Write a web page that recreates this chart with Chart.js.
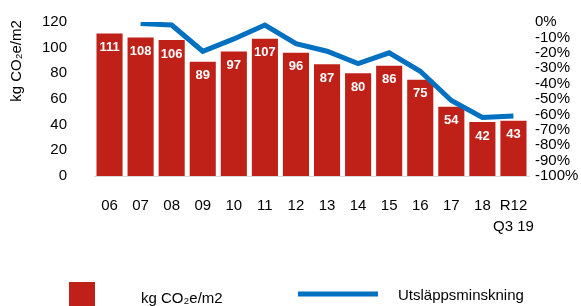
<!DOCTYPE html>
<html>
<head>
<meta charset="utf-8">
<script src="https://cdn.jsdelivr.net/npm/chart.js@4.4.1/dist/chart.umd.min.js"></script>
<style>
  html, body { margin: 0; padding: 0; background: #fff; }
  #wrap { width: 581px; height: 306px; }
</style>
</head>
<body>
<div id="wrap"><canvas id="chart" width="581" height="306"></canvas></div>
<script>
// Data
const categories = ['06', '07', '08', '09', '10', '11', '12', '13', '14', '15', '16', '17', '18', ['R12', 'Q3 19']];
const emissions = [111, 108, 106, 89, 97, 107, 96, 87, 80, 86, 75, 54, 42, 43];
const reduction = [null, -1, -2, -19, -11, -2, -14, -19, -27, -20, -32, -51, -62, -61];
const leftTicks = [0, 20, 40, 60, 80, 100, 120];
const rightTicks = [-100, -90, -80, -70, -60, -50, -40, -30, -20, -10, 0];
const yTitle = 'kg CO\u2082e/m2';

const FONT = "'Liberation Sans', Arial, sans-serif";
const RED = '#BF2119';
const BLUE = '#0070C0';

// White value labels inside the top of each bar
const barLabels = {
  id: 'barLabels',
  afterDatasetsDraw(chart) {
    const meta = chart.getDatasetMeta(0);
    const ctx = chart.ctx;
    ctx.save();
    ctx.font = 'bold 13px ' + FONT;
    ctx.fillStyle = '#fff';
    ctx.textAlign = 'center';
    ctx.textBaseline = 'middle';
    meta.data.forEach((bar, i) => {
      ctx.fillText(emissions[i], bar.x, bar.y + 14);
    });
    ctx.restore();
  }
};

// Rotated axis title and the legend at the bottom, drawn by hand
const extras = {
  id: 'extras',
  afterDraw(chart) {
    const ctx = chart.ctx;
    const ds = chart.data.datasets;
    ctx.save();
    ctx.fillStyle = '#000';
    ctx.font = '15px ' + FONT;
    ctx.textBaseline = 'middle';
    ctx.textAlign = 'center';
    ctx.save();
    ctx.translate(17, 61);
    ctx.rotate(-Math.PI / 2);
    ctx.fillText(yTitle, 0, 0);
    ctx.restore();

    ctx.fillStyle = ds[0].backgroundColor;
    ctx.fillRect(69, 282, 26, 24);
    ctx.strokeStyle = ds[1].borderColor;
    ctx.lineWidth = 5;
    ctx.beginPath();
    ctx.moveTo(298, 294);
    ctx.lineTo(378, 294);
    ctx.stroke();
    ctx.fillStyle = '#000';
    ctx.textAlign = 'left';
    ctx.fillText(ds[0].label, 141, 299);
    ctx.fillText(ds[1].label, 398, 296);
    ctx.restore();
  }
};

new Chart(document.getElementById('chart'), {
  type: 'bar',
  data: {
    labels: categories,
    datasets: [
      {
        type: 'bar',
        label: 'kg CO\u2082e/m2',
        data: emissions,
        backgroundColor: RED,
        yAxisID: 'y',
        barPercentage: 0.84,
        categoryPercentage: 1,
        order: 2
      },
      {
        type: 'line',
        label: 'Utsläppsminskning',
        data: reduction,
        borderColor: BLUE,
        borderWidth: 5,
        pointRadius: 0,
        tension: 0,
        fill: false,
        yAxisID: 'y2',
        order: 1
      }
    ]
  },
  options: {
    responsive: false,
    animation: false,
    layout: { padding: { top: 22, left: 0, right: 0, bottom: 0 } },
    plugins: {
      legend: { display: false },
      tooltip: { enabled: false }
    },
    scales: {
      x: {
        grid: { display: false, drawTicks: false },
        border: { display: true, color: '#d9d9d9', width: 1 },
        ticks: {
          color: '#000',
          font: { family: FONT, size: 15, lineHeight: 1.4 },
          padding: 19,
          maxRotation: 0,
          autoSkip: false
        },
        afterFit(s) { s.height = 130; }
      },
      y: {
        position: 'left',
        min: 0,
        max: 120,
        afterBuildTicks(s) { s.ticks = leftTicks.map(v => ({ value: v })); },
        grid: { display: false, drawTicks: false },
        border: { display: false },
        ticks: {
          color: '#000',
          font: { family: FONT, size: 15 },
          padding: 27,
          autoSkip: false
        },
        afterFit(s) { s.width = 94; s.paddingTop = 0; s.paddingBottom = 0; }
      },
      y2: {
        position: 'right',
        min: -100,
        max: 0,
        afterBuildTicks(s) { s.ticks = rightTicks.map(v => ({ value: v })); },
        grid: { display: false, drawTicks: false },
        border: { display: false },
        ticks: {
          color: '#000',
          font: { family: FONT, size: 15 },
          padding: 6,
          autoSkip: false,
          callback: v => v + '%'
        },
        afterFit(s) { s.width = 52; s.paddingTop = 0; s.paddingBottom = 0; }
      }
    }
  },
  plugins: [barLabels, extras]
});
</script>
</body>
</html>
